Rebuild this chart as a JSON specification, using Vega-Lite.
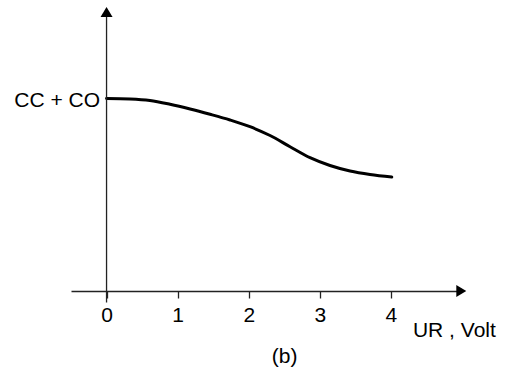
{
  "$schema": "https://vega.github.io/schema/vega-lite/v6.json",
  "autosize": {"type": "none"},
  "padding": {"left": 71, "top": 5, "right": 50, "bottom": 79},
  "width": 391,
  "height": 286,
  "background": "white",
  "config": {
    "view": {"stroke": null},
    "font": "Liberation Sans",
    "axis": {"grid": false, "domainColor": "#222", "domainWidth": 1.3, "tickColor": "#222", "tickWidth": 1.3, "tickSize": 7, "labelFontSize": 21, "labelColor": "black", "labelPadding": 6, "labelFont": "Liberation Sans", "title": null}
  },
  "datasets": {
    "curve": [
      {"u": 0.0, "v": 1.925},
      {"u": 0.33, "v": 1.92},
      {"u": 0.61, "v": 1.905},
      {"u": 0.893, "v": 1.867},
      {"u": 1.175, "v": 1.82},
      {"u": 1.456, "v": 1.767},
      {"u": 1.737, "v": 1.71},
      {"u": 2.018, "v": 1.643},
      {"u": 2.3, "v": 1.555},
      {"u": 2.581, "v": 1.443},
      {"u": 2.862, "v": 1.333},
      {"u": 3.143, "v": 1.255},
      {"u": 3.425, "v": 1.2},
      {"u": 3.706, "v": 1.165},
      {"u": 4.012, "v": 1.14}
    ],
    "one": [{}]
  },
  "layer": [
    {
      "data": {"name": "curve"},
      "mark": {"type": "line", "color": "black", "strokeWidth": 3, "interpolate": "monotone", "strokeCap": "round"},
      "encoding": {
        "x": {"field": "u", "type": "quantitative", "scale": {"domain": [-0.5, 5.0], "nice": false, "zero": false},
          "axis": {"values": [0, 1, 2, 3, 4], "format": "d", "title": null, "labelFontSize": 21, "labelPadding": 6, "tickSize": 7}},
        "y": {"field": "v", "type": "quantitative", "scale": {"domain": [0, 2.86], "nice": false, "zero": false}, "axis": null}
      }
    },
    {
      "data": {"name": "one"},
      "mark": {"type": "rule", "color": "#222", "strokeWidth": 1.3},
      "encoding": {
        "x": {"datum": 0, "type": "quantitative"},
        "y": {"datum": -0.115, "type": "quantitative"},
        "y2": {"datum": 2.79}
      }
    },
    {
      "data": {"name": "one"},
      "mark": {"type": "point", "shape": "M0,-0.83L1,0.83L-1,0.83Z", "filled": true, "color": "black", "size": 144, "opacity": 1},
      "encoding": {
        "x": {"datum": 0, "type": "quantitative"},
        "y": {"datum": 2.79, "type": "quantitative"}
      }
    },
    {
      "data": {"name": "one"},
      "mark": {"type": "point", "shape": "M0.83,0L-0.83,1L-0.83,-1Z", "filled": true, "color": "black", "size": 144, "opacity": 1},
      "encoding": {
        "x": {"datum": 4.99, "type": "quantitative"},
        "y": {"datum": 0, "type": "quantitative"}
      }
    },
    {
      "data": {"name": "one"},
      "mark": {"type": "text", "text": "CC + CO", "align": "right", "baseline": "alphabetic", "fontSize": 21, "color": "black", "font": "Liberation Sans"},
      "encoding": {
        "x": {"datum": -0.091, "type": "quantitative"},
        "y": {"datum": 1.84, "type": "quantitative"}
      }
    },
    {
      "data": {"name": "one"},
      "mark": {"type": "text", "text": "UR , Volt", "align": "left", "baseline": "alphabetic", "fontSize": 21, "color": "black", "font": "Liberation Sans"},
      "encoding": {
        "x": {"datum": 4.31, "type": "quantitative"},
        "y": {"datum": -0.46, "type": "quantitative"}
      }
    },
    {
      "data": {"name": "one"},
      "mark": {"type": "text", "text": "(b)", "align": "center", "baseline": "alphabetic", "fontSize": 21, "color": "black", "font": "Liberation Sans"},
      "encoding": {
        "x": {"datum": 2.504, "type": "quantitative"},
        "y": {"datum": -0.716, "type": "quantitative"}
      }
    }
  ]
}
